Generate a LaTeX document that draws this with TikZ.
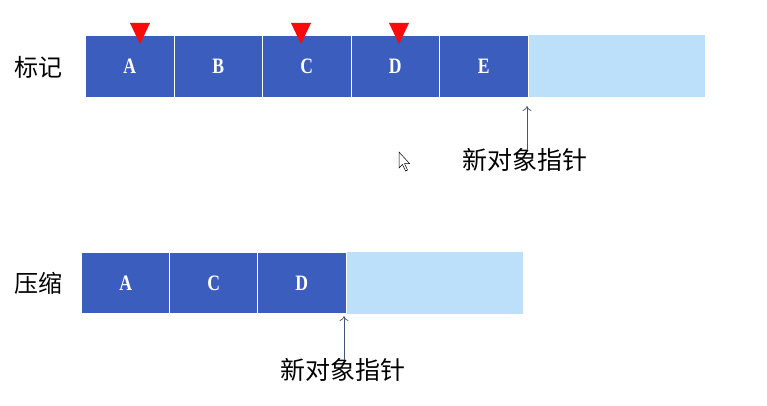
\documentclass[tikz,border=0pt]{standalone}
\usepackage{fontspec}
\usetikzlibrary{arrows.meta}
\setmainfont{Liberation Serif}
\newfontfamily\cellfont[FakeStretch=0.8]{Liberation Serif}
\newfontfamily\cjk{Noto Sans CJK SC}
\definecolor{cellblue}{RGB}{59,93,190}
\definecolor{freeblue}{RGB}{189,224,250}
\definecolor{ptr}{RGB}{68,84,120}
\definecolor{mark}{RGB}{250,10,10}
\begin{document}
\begin{tikzpicture}[x=1pt,y=-1pt,
  cell/.style={draw=white,line width=0.8pt,fill=cellblue,minimum width=88.5pt,minimum height=62pt,inner sep=0pt,anchor=north west,text=white,font=\cellfont\bfseries\fontsize{22}{22}\selectfont},
  freecell/.style={fill=freeblue,minimum width=178pt,minimum height=62pt,inner sep=0pt,anchor=north west},
  rowlabel/.style={font=\cjk\fontsize{24}{24}\selectfont},
  ptrlabel/.style={font=\cjk\fontsize{25}{25}\selectfont},
  ptrarrow/.style={draw=ptr,line width=0.7pt,-{To[length=5pt,width=9pt]}},
  marker/.style={fill=mark,draw=none}]
\useasboundingbox (0,0) rectangle (767,406);
% top row
\node[freecell] (tf) at (527,35) {};
\node[cell] (ta) at (85,35) {A};
\node[cell] (tb) at (173.5,35) {B};
\node[cell] (tc) at (262,35) {C};
\node[cell] (td) at (350.5,35) {D};
\node[cell] (te) at (439,35) {E};
\node[rowlabel] (l1) at (38,67) {标记};
% markers
\fill[marker] (130,23) -- (150,23) -- (140,44) -- cycle;
\fill[marker] (291,23) -- (311,23) -- (301,44) -- cycle;
\fill[marker] (389,23) -- (409,23) -- (399,44) -- cycle;
% pointer top
\node[ptrlabel] (p1) at (525,160) {新对象指针};
\coordinate (p1s) at (527,150);
\coordinate (p1e) at (527,106);
\draw[ptrarrow] (p1s) -- (p1e);
% cursor
\draw[black,line width=0.5pt,fill=white] (399,152) -- (399,168) -- (402.5,164.5) -- (405.5,171) -- (407.5,170) -- (404.5,163.5) -- (409.5,163.5) -- cycle;
% bottom row
\node[freecell] (bf) at (345,252) {};
\node[cell,minimum height=61pt] (ba) at (81,252) {A};
\node[cell,minimum height=61pt] (bc) at (169,252) {C};
\node[cell,minimum height=61pt] (bd) at (257,252) {D};
\node[rowlabel] (l2) at (38,283) {压缩};
\node[ptrlabel] (p2) at (343,370) {新对象指针};
\coordinate (p2s) at (344,360);
\coordinate (p2e) at (344,316);
\draw[ptrarrow] (p2s) -- (p2e);
\end{tikzpicture}
\end{document}
